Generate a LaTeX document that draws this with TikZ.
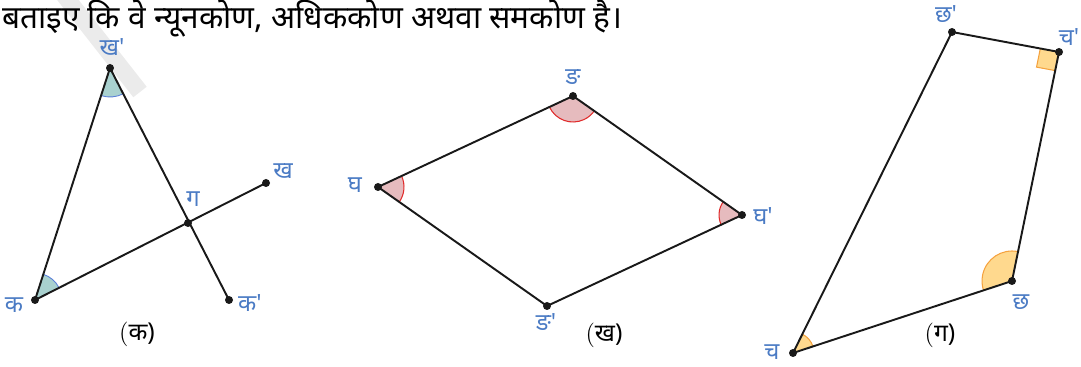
\documentclass[tikz,border=0pt]{standalone}
\usepackage{fontspec}
\newfontfamily\deva[Script=Devanagari]{Noto Sans}
\usepackage{xcolor}
\usetikzlibrary{angles, calc}

\definecolor{lblblue}{HTML}{4B7BC4}
\definecolor{tealfill}{HTML}{A9D1CF}
\definecolor{arcblue}{HTML}{5A7FD8}
\definecolor{pinkfill}{HTML}{E6BBBE}
\definecolor{arcred}{HTML}{E02B2B}
\definecolor{orangefill}{HTML}{FFD98E}
\definecolor{arcorange}{HTML}{F5A23E}

\begin{document}
\begin{tikzpicture}[
    x=0.02cm, y=-0.02cm,
    lbl/.style={text=lblblue, font=\deva\fontsize{13.5}{15}\selectfont, inner sep=0},
    captxt/.style={font=\fontsize{14}{16}\selectfont, inner sep=0},
    side/.style={line width=1.1pt, black!90},
    dot/.style={fill=black!90},
    tealang/.style={draw=arcblue, fill=tealfill, line width=0.5pt, angle radius=0.58cm},
    pinkang/.style={draw=arcred, fill=pinkfill, line width=0.6pt, angle radius=0.52cm},
    orangeang/.style={draw=arcorange, fill=orangefill, line width=0.6pt}
]
\useasboundingbox (0,0) rectangle (1081,367);

% watermark
\draw[black!8, line width=0.34cm] (64,-5) -- (140,92);

\node[anchor=base west, font=\deva\fontsize{18}{20}\selectfont] (title) at (-4,29)
  {बताइए कि वे न्यूनकोण, अधिककोण अथवा समकोण है।};

% (ka)
\coordinate (k) at (35,300);
\coordinate (khp) at (110,68);
\coordinate (g) at (188,223);
\coordinate (kh) at (266,183);
\coordinate (kp) at (229,300);

\pic[tealang] {angle = k--khp--kp};
\pic[tealang, angle radius=0.54cm] {angle = kh--k--khp};

\draw[side] (k) -- (khp) -- (kp);
\draw[side] (k) -- (kh);

\foreach \p in {k, khp, g, kh, kp}
  \fill[dot] (\p) circle (0.08cm);

\node[lbl] (lk) at (14,305) {क};
\node[lbl] (lkhp) at (112,47) {ख'};
\node[lbl] (lg) at (193,199) {ग};
\node[lbl] (lkh) at (283,171) {ख};
\node[lbl] (lkp) at (250,303) {क'};
\node[captxt] (capa) at (137,334) {(\deva क)};

% (kha)
\coordinate (gh) at (378,187);
\coordinate (ng) at (573,96);
\coordinate (ghp) at (742,215);
\coordinate (ngp) at (547,306);

\pic[pinkang] {angle = ngp--gh--ng};
\pic[pinkang] {angle = gh--ng--ghp};
\pic[pinkang, angle radius=0.46cm] {angle = ng--ghp--ngp};

\draw[side] (gh) -- (ng) -- (ghp) -- (ngp) -- cycle;

\foreach \p in {gh, ng, ghp, ngp}
  \fill[dot] (\p) circle (0.08cm);

\node[lbl] (lgh) at (355,185) {घ};
\node[lbl] (lng) at (573,77) {ङ};
\node[lbl] (lghp) at (763,216) {घ'};
\node[lbl] (lngp) at (546,322) {ङ'};
\node[captxt] (capb) at (604,335) {(\deva ख)};

% (ga)
\coordinate (ch) at (793,353);
\coordinate (chh) at (1012,281);
\coordinate (chp) at (1059,52);
\coordinate (chhp) at (952,32);

\pic[orangeang, angle radius=0.42cm] {angle = chh--ch--chhp};
\pic[orangeang, angle radius=0.6cm] {angle = chp--chh--ch};
\pic[orangeang, angle radius=0.38cm] {right angle = chhp--chp--chh};

\draw[side] (ch) -- (chh) -- (chp) -- (chhp) -- cycle;

\foreach \p in {ch, chh, chp, chhp}
  \fill[dot] (\p) circle (0.08cm);

\node[lbl] (lch) at (772,352) {च};
\node[lbl] (lchh) at (1021,302) {छ};
\node[lbl] (lchp) at (1069,37) {च'};
\node[lbl] (lchhp) at (946,14) {छ'};
\node[captxt] (capc) at (940,335) {(\deva ग)};

\end{tikzpicture}
\end{document}
